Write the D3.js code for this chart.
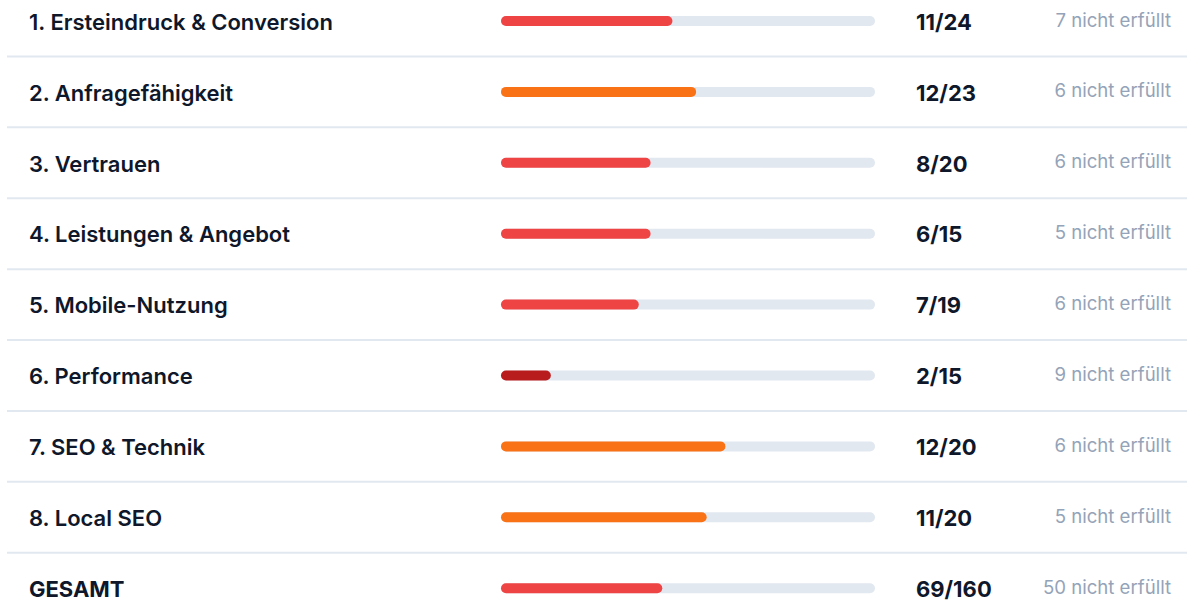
<!DOCTYPE html>
<html>
<head>
<meta charset="utf-8">
<script src="https://cdn.jsdelivr.net/npm/d3@7"></script>
<style>
  html, body { margin: 0; padding: 0; background: #fff; }
  svg { display: block; font-family: Inter, "Noto Sans", sans-serif; }
</style>
</head>
<body>
<script>
// data
var categories = ["1. Ersteindruck & Conversion", "2. Anfragefähigkeit", "3. Vertrauen",
  "4. Leistungen & Angebot", "5. Mobile-Nutzung", "6. Performance", "7. SEO & Technik",
  "8. Local SEO", "GESAMT"];
var scores = [11, 12, 8, 6, 7, 2, 12, 11, 69];
var maxScores = [24, 23, 20, 15, 19, 15, 20, 20, 160];
var notMet = [7, 6, 6, 5, 6, 9, 6, 5, 50];

var width = 1187, height = 600;
var rowH = 70.9;

var svg = d3.select("body").append("svg")
  .attr("width", width)
  .attr("height", height);

var y = d3.scaleBand()
  .domain(categories)
  .range([21 - rowH / 2, 21 - rowH / 2 + rowH * categories.length])
  .padding(0);

var x = d3.scaleLinear().domain([0, 1]).range([501, 875]);

function barColor(r) {
  if (r < 0.2) return "#b91c1c";
  if (r < 0.5) return "#ef4444";
  return "#f97316";
}

var rows = svg.selectAll("g.row")
  .data(categories)
  .enter()
  .append("g")
  .attr("class", "row")
  .attr("transform", function (d) { return "translate(0," + (y(d) + y.bandwidth() / 2) + ")"; });

// separators
rows.filter(function (d, i) { return i < categories.length - 1; })
  .append("line")
  .attr("x1", 7).attr("x2", width)
  .attr("y1", y.bandwidth() / 2).attr("y2", y.bandwidth() / 2)
  .attr("stroke", "#e2e8f0")
  .attr("stroke-width", 2);

rows.append("text")
  .attr("x", 29)
  .attr("y", 1)
  .attr("dy", "0.35em")
  .attr("fill", "#0f172a")
  .style("font-size", "22px")
  .style("font-weight", function (d, i) { return i === categories.length - 1 ? 700 : 600; })
  .text(function (d) { return d; });

rows.append("rect")
  .attr("x", x(0))
  .attr("y", -5)
  .attr("width", x(1) - x(0))
  .attr("height", 10)
  .attr("rx", 5)
  .attr("fill", "#e2e8f0");

rows.append("rect")
  .attr("x", x(0))
  .attr("y", -5)
  .attr("width", function (d, i) { return x(scores[i] / maxScores[i]) - x(0); })
  .attr("height", 10)
  .attr("rx", 5)
  .attr("fill", function (d, i) { return barColor(scores[i] / maxScores[i]); });

rows.append("text")
  .attr("x", 916)
  .attr("y", 1)
  .attr("dy", "0.35em")
  .attr("fill", "#0f172a")
  .style("font-size", "22px")
  .style("font-weight", 700)
  .text(function (d, i) { return scores[i] + "/" + maxScores[i]; });

rows.append("text")
  .attr("x", 1171)
  .attr("y", -1)
  .attr("dy", "0.35em")
  .attr("text-anchor", "end")
  .attr("fill", "#94a3b8")
  .style("font-size", "18.6px")
  .style("font-weight", 400)
  .text(function (d, i) { return notMet[i] + " nicht erfüllt"; });
</script>
</body>
</html>
